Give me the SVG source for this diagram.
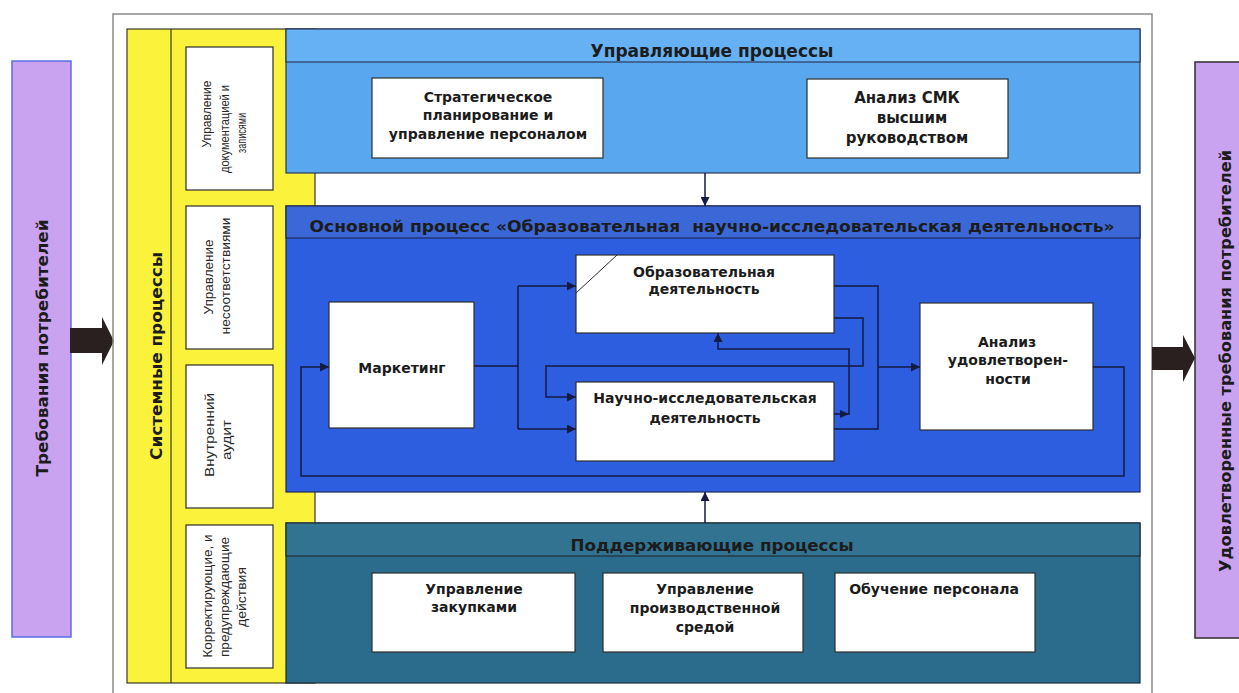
<svg xmlns="http://www.w3.org/2000/svg" width="1239" height="693" viewBox="0 0 1239 693">
<style>
.b{font-family:"DejaVu Sans","Liberation Sans",sans-serif;font-weight:bold;fill:#1c1c1c;text-anchor:middle}
.s{font-family:"Liberation Sans","DejaVu Sans",sans-serif;font-size:12px;fill:#2a2a2a;text-anchor:middle}
.box{fill:#ffffff;stroke:#2e2e2e;stroke-width:1.2}
.ln{fill:none;stroke:#141a40;stroke-width:1.5}
</style>
<defs>
<marker id="ah" viewBox="0 0 10 10" refX="10" refY="5" markerWidth="9" markerHeight="9" markerUnits="userSpaceOnUse" orient="auto">
<path d="M0,0 L10,5 L0,10 Z" fill="#141a40"/>
</marker>
</defs>
<rect width="1239" height="693" fill="#ffffff"/>

<g id="input">
<rect x="12" y="61" width="59" height="576" fill="#c9a2f0" stroke="#5a6ee6" stroke-width="1.5"/>
<text class="b" font-size="16" transform="translate(48,348) rotate(-90)" textLength="257" lengthAdjust="spacingAndGlyphs">Требования потребителей</text>
<path d="M70,328 H102 V317 L114,341 L102,365 V353 H70 Z" fill="#2a2020"/>
</g>

<g id="frame">
<path d="M113,700 V14 H1152 V700" fill="none" stroke="#8a8a8a" stroke-width="1.5"/>
</g>

<g id="system">
<rect x="127" y="29" width="188" height="654" fill="#fbf23c" stroke="#3a3a2a" stroke-width="1.2"/>
<line x1="171" y1="29" x2="171" y2="683" stroke="#3a3a2a" stroke-width="1.2"/>
<text class="b" font-size="16" transform="translate(162,356) rotate(-90)" textLength="208" lengthAdjust="spacingAndGlyphs">Системные процессы</text>
</g>

<g id="sys-docs">
<rect class="box" x="186" y="47" width="87" height="143"/>
<text class="s" font-size="11" transform="translate(211,114) rotate(-90)" textLength="67" lengthAdjust="spacingAndGlyphs">Управление</text>
<text class="s" font-size="11" transform="translate(229,129) rotate(-90)" textLength="88" lengthAdjust="spacingAndGlyphs">документацией и</text>
<text class="s" font-size="11" transform="translate(246,133) rotate(-90)" textLength="40" lengthAdjust="spacingAndGlyphs">записями</text>
</g>
<g id="sys-nc">
<rect class="box" x="186" y="206" width="87" height="143"/>
<text class="s" transform="translate(213,277) rotate(-90)" textLength="75" lengthAdjust="spacingAndGlyphs">Управление</text>
<text class="s" transform="translate(230,276) rotate(-90)" textLength="117" lengthAdjust="spacingAndGlyphs">несоответствиями</text>
</g>
<g id="sys-audit">
<rect class="box" x="186" y="365" width="87" height="143"/>
<text class="s" transform="translate(214,435) rotate(-90)" textLength="84" lengthAdjust="spacingAndGlyphs">Внутренний</text>
<text class="s" transform="translate(231,440) rotate(-90)" textLength="40" lengthAdjust="spacingAndGlyphs">аудит</text>
</g>
<g id="sys-corr">
<rect class="box" x="186" y="525" width="87" height="143"/>
<text class="s" transform="translate(212,596) rotate(-90)" textLength="123" lengthAdjust="spacingAndGlyphs">Корректирующие, и</text>
<text class="s" transform="translate(229,597) rotate(-90)" textLength="120" lengthAdjust="spacingAndGlyphs">предупреждающие</text>
<text class="s" transform="translate(246,597) rotate(-90)" textLength="60" lengthAdjust="spacingAndGlyphs">действия</text>
</g>

<g id="management">
<rect x="286" y="29" width="854" height="144" fill="#58a7ef" stroke="#2a3a5a" stroke-width="1.2"/>
<rect x="286" y="29" width="854" height="33" fill="#66b1f3" stroke="#2a3a5a" stroke-width="1.2"/>
<text class="b" font-size="17" x="712" y="57" textLength="243" lengthAdjust="spacingAndGlyphs">Управляющие процессы</text>
</g>
<g id="strategic">
<rect class="box" x="372" y="78" width="231" height="80"/>
<text class="b" font-size="14" x="488" y="102">Стратегическое</text>
<text class="b" font-size="14" x="488" y="120">планирование и</text>
<text class="b" font-size="14" x="488" y="139">управление персоналом</text>
</g>
<g id="review">
<rect class="box" x="807" y="79" width="201" height="79"/>
<text class="b" font-size="15" x="907" y="103">Анализ СМК</text>
<text class="b" font-size="15" x="912" y="123">высшим</text>
<text class="b" font-size="15" x="907" y="143">руководством</text>
</g>

<g id="main">
<rect x="286" y="206" width="854" height="286" fill="#2d5ee0" stroke="#1e2a5a" stroke-width="1.2"/>
<rect x="286" y="206" width="854" height="32" fill="#3b68d6" stroke="#1e2a5a" stroke-width="1.2"/>
<text class="b" font-size="16" x="712" y="232" textLength="805" lengthAdjust="spacingAndGlyphs" xml:space="preserve">Основной процесс «Образовательная  научно-исследовательская деятельность»</text>
</g>
<g id="marketing">
<rect class="box" x="329" y="302" width="145" height="126"/>
<text class="b" font-size="14" x="402" y="373">Маркетинг</text>
</g>
<g id="education">
<rect class="box" x="576" y="255" width="258" height="78"/>
<line x1="576" y1="293" x2="617" y2="255" stroke="#2a2a2a" stroke-width="1"/>
<text class="b" font-size="14" x="704" y="277">Образовательная</text>
<text class="b" font-size="14" x="704" y="294">деятельность</text>
</g>
<g id="research">
<rect class="box" x="576" y="382" width="258" height="79"/>
<text class="b" font-size="14" x="705" y="403">Научно-исследовательская</text>
<text class="b" font-size="14" x="705" y="423">деятельность</text>
</g>
<g id="satisfaction">
<rect class="box" x="920" y="303" width="173" height="127"/>
<text class="b" font-size="14" x="1007" y="347">Анализ</text>
<text class="b" font-size="14" x="1008" y="365">удовлетворен-</text>
<text class="b" font-size="14" x="1008" y="384">ности</text>
</g>

<g id="support">
<rect x="286" y="523" width="854" height="160" fill="#2b6b8b" stroke="#1e2e3a" stroke-width="1.2"/>
<rect x="286" y="523" width="854" height="33" fill="#327391" stroke="#1e2e3a" stroke-width="1.2"/>
<text class="b" font-size="16" x="712" y="551" textLength="283" lengthAdjust="spacingAndGlyphs">Поддерживающие процессы</text>
</g>
<g id="purchasing">
<rect class="box" x="372" y="573" width="203" height="79"/>
<text class="b" font-size="14" x="474" y="594">Управление</text>
<text class="b" font-size="14" x="474" y="612">закупками</text>
</g>
<g id="environment">
<rect class="box" x="603" y="573" width="200" height="79"/>
<text class="b" font-size="14" x="705" y="594">Управление</text>
<text class="b" font-size="14" x="705" y="613">производственной</text>
<text class="b" font-size="14" x="705" y="632">средой</text>
</g>
<g id="training">
<rect class="box" x="835" y="573" width="200" height="79"/>
<text class="b" font-size="14" x="934" y="594">Обучение персонала</text>
</g>

<g id="output">
<path d="M1152,347 H1183 V335 L1195,358 L1183,382 V370 H1152 Z" fill="#2a2020"/>
<rect x="1195" y="62" width="50" height="576" fill="#c9a2f0" stroke="#2e2e2e" stroke-width="1.5"/>
<text class="b" font-size="16" transform="translate(1231,361) rotate(-90)" textLength="422" lengthAdjust="spacingAndGlyphs">Удовлетворенные требования потребителей</text>
</g>

<g id="connectors">
<path class="ln" d="M705,173 V206" marker-end="url(#ah)"/>
<path class="ln" d="M705,523 V492" marker-end="url(#ah)"/>
<path class="ln" d="M474,366 H518"/>
<path class="ln" d="M518,286 V429"/>
<path class="ln" d="M518,286 H576" marker-end="url(#ah)"/>
<path class="ln" d="M518,429 H576" marker-end="url(#ah)"/>
<path class="ln" d="M834,286 H878 V429 H834"/>
<path class="ln" d="M878,367 H920" marker-end="url(#ah)"/>
<path class="ln" d="M834,318 H863 V366 H546 V397 H576" marker-end="url(#ah)"/>
<path class="ln" d="M834,414 H849 V349 H718 V333" marker-end="url(#ah)"/>
<path d="M840,410 L849,414 L840,418 Z" fill="#141a40"/>
<path class="ln" d="M1093,367 H1124 V476 H301 V367 H329" marker-end="url(#ah)"/>
</g>
</svg>
